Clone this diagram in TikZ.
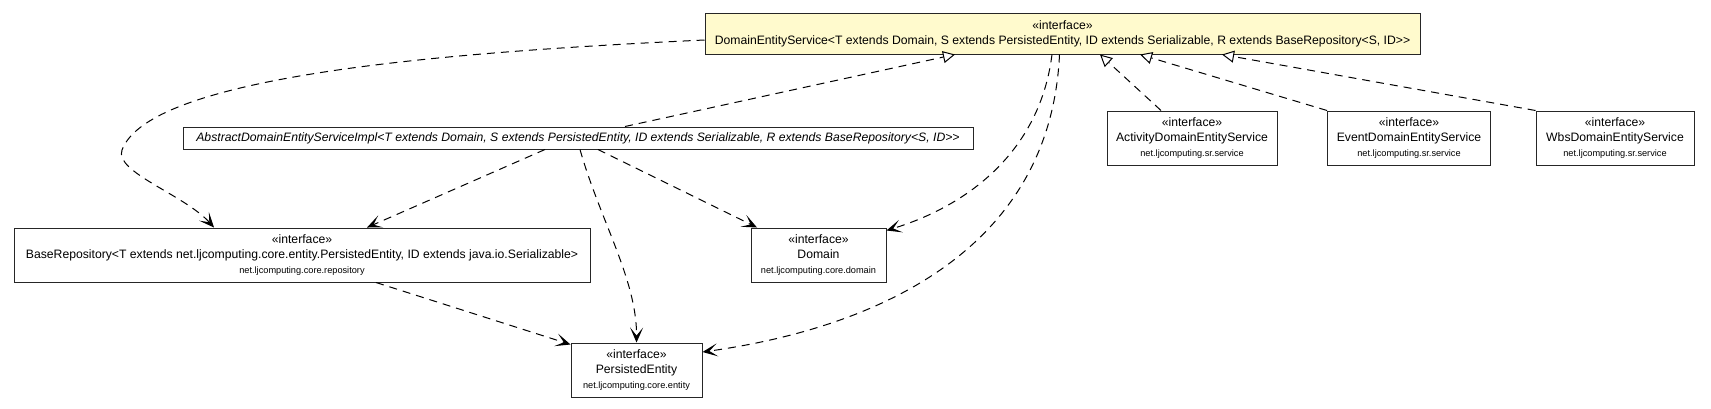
\documentclass[tikz,border=0pt]{standalone}
\usepackage{fontspec}
\setmainfont{Liberation Sans}
\usetikzlibrary{arrows.meta}
\newcommand{\fnm}{\fontsize{12.2}{15}\selectfont}
\newcommand{\fpk}{\fontsize{9.2}{15}\selectfont}
\definecolor{chiffon}{HTML}{FFFACD}
\tikzset{
  umlbox/.style={draw=black!85, line width=1pt, fill=white, inner xsep=3pt, inner ysep=0pt, align=center, font=\fnm},
  iface/.style={umlbox, minimum height=54pt},
  dep/.style={draw, line width=1pt, dash pattern=on 8pt off 6pt, -{Stealth[length=15pt,width=13pt,inset=8pt]}},
  real/.style={draw, line width=1pt, dash pattern=on 8pt off 6pt, -{Triangle[open,length=12pt,width=12pt,fill=white]}},
}
\begin{document}
\begin{tikzpicture}[x=1pt,y=-1pt]
\useasboundingbox (0,0) rectangle (1711,408);
% nodes
\node[umlbox, fill=chiffon, minimum width=715pt, minimum height=41pt] (des) at (1062.5,33.5)
  {«interface»\\DomainEntityService<T extends Domain, S extends PersistedEntity, ID extends Serializable, R extends BaseRepository<S, ID>{}>};
\node[umlbox, minimum width=790pt, minimum height=22pt, font=\fnm\itshape] (ades) at (578,138)
  {AbstractDomainEntityServiceImpl<T extends Domain, S extends PersistedEntity, ID extends Serializable, R extends BaseRepository<S, ID>{}>};
\node[iface, minimum width=170pt] (act) at (1192,138)
  {«interface»\\ActivityDomainEntityService\\{\fpk net.ljcomputing.sr.service}};
\node[iface, minimum width=163pt] (evt) at (1409,138)
  {«interface»\\EventDomainEntityService\\{\fpk net.ljcomputing.sr.service}};
\node[iface, minimum width=158pt] (wbs) at (1615,138)
  {«interface»\\WbsDomainEntityService\\{\fpk net.ljcomputing.sr.service}};
\node[iface, minimum width=576pt] (br) at (302,255)
  {«interface»\\BaseRepository<T extends net.ljcomputing.core.entity.PersistedEntity, ID extends java.io.Serializable>\\{\fpk net.ljcomputing.core.repository}};
\node[iface, minimum width=135pt] (dom) at (818.5,255)
  {«interface»\\Domain\\{\fpk net.ljcomputing.core.domain}};
\node[iface, minimum width=131pt] (pe) at (636.5,370)
  {«interface»\\PersistedEntity\\{\fpk net.ljcomputing.core.entity}};
\coordinate (bend1) at (122,150);
% connectors
\draw[dep] ([yshift=-6.5pt]des.west) .. controls (450,52) and (150,75) .. (bend1)
  .. controls (114,172) and (185,195) .. ([xshift=-88pt]br.north);
\draw[real] ([xshift=47pt]ades.north) -- ([xshift=-107.5pt]des.south);
\draw[dep] ([xshift=-33pt]ades.south) -- ([xshift=65pt]br.north);
\draw[dep] ([xshift=2pt]ades.south) .. controls (600,220) and (637,280) .. (pe.north);
\draw[dep] ([xshift=20pt]ades.south) -- ([xshift=-61.5pt]dom.north);
\draw[dep] ([xshift=-10.5pt]des.south) .. controls (1040,150) and (970,205) .. ([yshift=-3pt]dom.north east);
\draw[dep] ([xshift=-3pt]des.south) .. controls (1050,260) and (860,330) .. ([yshift=18pt]pe.east);
\draw[dep] ([xshift=74pt]br.south) -- ([yshift=-2pt]pe.north west);
\draw[real] ([xshift=-31pt]act.north) -- ([xshift=37.5pt]des.south);
\draw[real] (evt.north west) -- ([xshift=77.5pt]des.south);
\draw[real] (wbs.north west) -- ([xshift=159.5pt]des.south);
\end{tikzpicture}
\end{document}
